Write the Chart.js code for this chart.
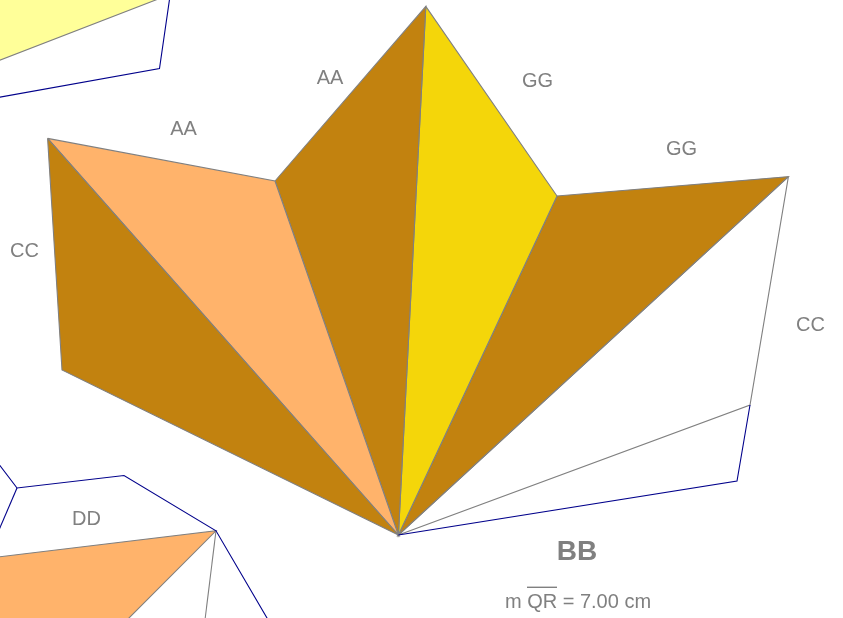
<!DOCTYPE html>
<html>
<head>
<meta charset="utf-8">
<style>html,body{margin:0;padding:0;background:#fff;overflow:hidden}canvas{display:block}</style>
<script src="https://cdn.jsdelivr.net/npm/chart.js@4"></script>
</head>
<body>
<canvas id="netChart" width="843" height="618"></canvas>
<script>
// faces of the net, as [x,y]
const faceCC1=[[47.6,138.4],[62,370],[398.4,535]];
const faceAA1=[[47.6,138.4],[275,181],[398.4,535]];
const faceAA2=[[275,181],[425.8,6.4],[398.4,535]];
const faceGG1=[[425.8,6.4],[557,196],[398.4,535]];
const faceGG2=[[557,196],[788.4,176.6],[398.4,535]];
const faceCC2=[[788.4,176.6],[750,405],[398.4,535]];
const faceDD=[[-10,558],[216,530.8],[119,628],[-10,628]];
const faceTop=[[-10,64],[166,-4],[-10,-4]];
// blue outlines
const outlineBB=[[750,405],[737,481],[398.4,535]];
const outlineDD=[[-5,459],[17,488],[124,475.5],[216,530.8],[267,618],[272,628]];
const outlineLeft=[[17,488],[-4,537]];
const outlineTop=[[-5,98],[159.5,68.5],[170,-4]];
const edgeDD=[[216,530.8],[204,628]];
const overline=[[527,587.3],[557,587.3]];
// texts
const labelTexts=['AA','AA','GG','GG','CC','CC','DD','m QR = 7.00 cm'];
const labelX=[330,183.5,537.5,681.5,24.5,810.5,86.5,578];
const labelY=[78,129,81.5,149,251,325,519,602];
const titleText='BB';
const titleX=577, titleY=552;

const GRAY='#808080', NAVY='#00008b', DARK='#c2820f', PEACH='#ffb36b', GOLD='#f4d60a', PALE='#ffff99';

function closed(pts){return pts.concat([pts[0]]).map(p=>({x:p[0],y:p[1]}));}
function open(pts){return pts.map(p=>({x:p[0],y:p[1]}));}
function face(pts,col){return {data:closed(pts),showLine:true,fill:'shape',backgroundColor:col,borderColor:GRAY,borderWidth:1.1,pointRadius:0};}
function line(pts,col,w){return {data:open(pts),showLine:true,fill:false,borderColor:col,borderWidth:w,pointRadius:0};}

const textPlugin={
  id:'texts',
  afterDatasetsDraw(chart){
    const c=chart.ctx,sx=chart.scales.x,sy=chart.scales.y;
    c.save();
    c.fillStyle=GRAY;
    c.textAlign='center';
    c.textBaseline='middle';
    c.font='20px "Liberation Sans"';
    labelTexts.forEach((t,i)=>c.fillText(t,sx.getPixelForValue(labelX[i]),sy.getPixelForValue(labelY[i])));
    c.font='bold 28px "Liberation Sans"';
    c.fillText(titleText,sx.getPixelForValue(titleX),sy.getPixelForValue(titleY));
    c.restore();
  }
};

new Chart(document.getElementById('netChart').getContext('2d'),{
  type:'scatter',
  data:{datasets:[
    line(overline,GRAY,1.4),
    line(outlineBB,NAVY,1.1),line(outlineDD,NAVY,1.1),line(outlineLeft,NAVY,1.1),line(outlineTop,NAVY,1.1),
    line(edgeDD,GRAY,1.1),
    face(faceCC1,DARK),face(faceAA1,PEACH),face(faceAA2,DARK),face(faceGG1,GOLD),face(faceGG2,DARK),
    face(faceCC2,'rgba(255,255,255,0)'),face(faceDD,PEACH),face(faceTop,PALE)
  ]},
  options:{
    responsive:false,
    animation:false,
    layout:{padding:0},
    plugins:{legend:{display:false},tooltip:{enabled:false}},
    scales:{
      x:{type:'linear',display:false,min:0,max:843},
      y:{type:'linear',display:false,min:0,max:618,reverse:true}
    }
  },
  plugins:[textPlugin]
});
</script>
</body>
</html>
